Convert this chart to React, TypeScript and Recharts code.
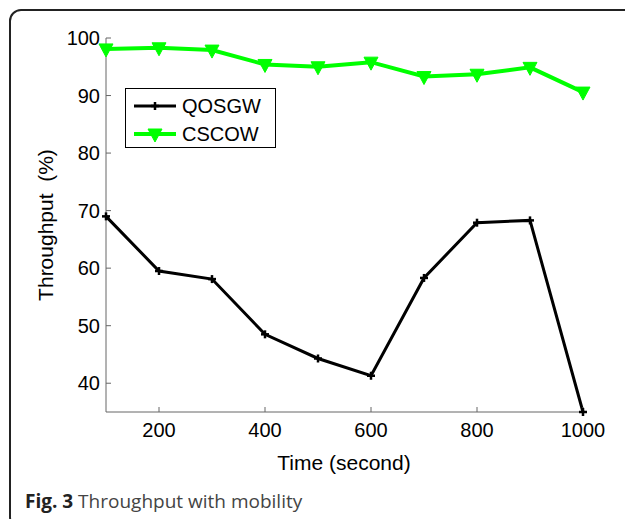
import React from 'react';
import { LineChart, Line, XAxis, YAxis, Label } from 'recharts';

// values
const times = [100, 200, 300, 400, 500, 600, 700, 800, 900, 1000];
const qosgw = [69.0, 59.5, 58.1, 48.5, 44.3, 41.3, 58.3, 67.9, 68.3, 35.0];
const cscow = [98.1, 98.3, 97.9, 95.4, 95.0, 95.8, 93.3, 93.7, 94.9, 90.6];
const xTicks = [200, 400, 600, 800, 1000];
const yTicks = [40, 50, 60, 70, 80, 90, 100];

const data = times.map((t, i) => ({ time: t, QOSGW: qosgw[i], CSCOW: cscow[i] }));

const FONT = '"Liberation Sans", Arial, Helvetica, sans-serif';
const GREEN = '#00ff00';

// plus-shaped marker
const PlusDot = (props: any) => {
  const { cx, cy } = props;
  if (cx == null || cy == null) return null;
  return (
    <g>
      <line x1={cx - 4} y1={cy} x2={cx + 4} y2={cy} stroke="#000" strokeWidth={2.5} />
      <line x1={cx} y1={cy - 4} x2={cx} y2={cy + 4} stroke="#000" strokeWidth={2.5} />
    </g>
  );
};

// downward triangle marker
const TriDot = (props: any) => {
  const { cx, cy } = props;
  if (cx == null || cy == null) return null;
  return <polygon points={`${cx - 7},${cy - 5} ${cx + 7},${cy - 5} ${cx},${cy + 8}`} fill={GREEN} stroke={GREEN} strokeWidth={1} />;
};

// legend drawn by hand, MATLAB style box
const LegendBox = () => (
  <div
    style={{
      position: 'absolute',
      left: 125,
      top: 88,
      width: 149,
      height: 58,
      border: '1px solid #000',
      background: '#fff',
    }}
  >
    <svg width={149} height={58} style={{ display: 'block' }}>
      <line x1={8} y1={17} x2={50} y2={17} stroke="#000" strokeWidth={3} />
      <PlusDot cx={29} cy={17} />
      <text x={56} y={17} dominantBaseline="central" fontSize={20} fontFamily={FONT}>QOSGW</text>
      <line x1={8} y1={45} x2={50} y2={45} stroke={GREEN} strokeWidth={4} />
      <TriDot cx={29} cy={45} />
      <text x={56} y={45} dominantBaseline="central" fontSize={20} fontFamily={FONT}>CSCOW</text>
    </svg>
  </div>
);

export default function App() {
  return (
    <div style={{ position: 'absolute', left: 0, top: 0, width: 625, height: 519, overflow: 'hidden', background: '#fff' }}>
      <div
        style={{
          position: 'absolute',
          left: 9,
          top: 9,
          width: 660,
          height: 520,
          border: '2px solid #222',
          borderRadius: 12,
          boxSizing: 'border-box',
        }}
      />
      <div style={{ position: 'absolute', left: 0, top: 0 }}>
        <LineChart width={625} height={519} data={data} margin={{ top: 38, right: 42, left: 46, bottom: 57 }}>
          <XAxis
            dataKey="time"
            type="number"
            domain={[100, 1000]}
            ticks={xTicks}
            height={50}
            tickSize={-5}
            tickMargin={16}
            axisLine={{ stroke: '#666' }}
            tickLine={{ stroke: '#666' }}
            tick={{ fill: '#000', fontSize: 20, fontFamily: FONT }}
          >
            <Label
              content={() => (
                <text x={344} y={462} textAnchor="middle" dominantBaseline="central" fontSize={21} fontFamily={FONT} fill="#000">
                  Time (second)
                </text>
              )}
            />
          </XAxis>
          <YAxis
            type="number"
            domain={[35, 100]}
            ticks={yTicks}
            width={60}
            tickSize={-5}
            tickMargin={11}
            axisLine={{ stroke: '#666' }}
            tickLine={{ stroke: '#666' }}
            tick={{ fill: '#000', fontSize: 20, fontFamily: FONT }}
          >
            <Label
              content={() => (
                <text
                  x={45}
                  y={225}
                  transform="rotate(-90 45 225)"
                  textAnchor="middle"
                  dominantBaseline="central"
                  fontSize={21}
                  fontFamily={FONT}
                  fill="#000"
                  style={{ whiteSpace: 'pre' }}
                >
                  {'Throughput  (%)'}
                </text>
              )}
            />
          </YAxis>
          <Line
            dataKey="QOSGW"
            stroke="#000"
            strokeWidth={3}
            dot={<PlusDot />}
            activeDot={false}
            isAnimationActive={false}
          />
          <Line
            dataKey="CSCOW"
            stroke={GREEN}
            strokeWidth={4}
            dot={<TriDot />}
            activeDot={false}
            isAnimationActive={false}
          />
        </LineChart>
      </div>
      <LegendBox />
      <div
        style={{
          position: 'absolute',
          left: 25,
          top: 488,
          fontFamily: '"Open Sans", sans-serif',
          fontSize: 19,
          color: '#444',
          whiteSpace: 'nowrap',
        }}
      >
        <b style={{ color: '#222' }}>Fig. 3</b> Throughput with mobility
      </div>
    </div>
  );
}
